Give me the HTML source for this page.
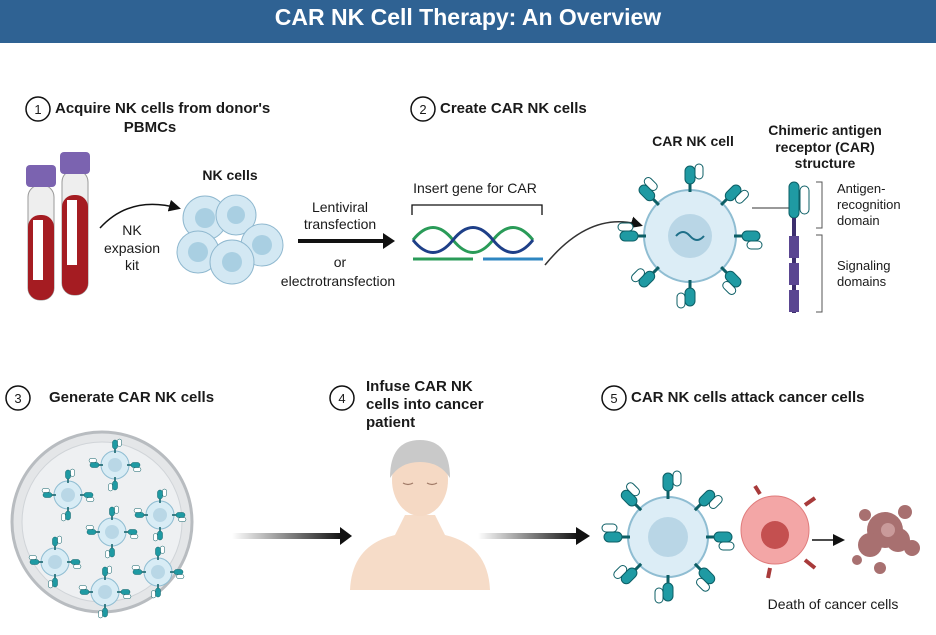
<!DOCTYPE html>
<html><head><meta charset="utf-8"><style>
html,body{margin:0;padding:0;background:#fff}
svg{display:block}
text{font-family:"Liberation Sans",sans-serif;fill:#1a1a1a}
.b{font-weight:bold}
</style></head><body>
<svg width="936" height="635" viewBox="0 0 936 635" xmlns="http://www.w3.org/2000/svg">
<defs>
<marker id="ah" markerWidth="8" markerHeight="8" refX="6" refY="4" orient="auto"><path d="M0,0 L8,4 L0,8 Z" fill="#111"/></marker>
<linearGradient id="ga" x1="0" x2="1"><stop offset="0" stop-color="#fff"/><stop offset="1" stop-color="#111"/></linearGradient>
<g id="rec"><rect x="-5" y="-18" width="10" height="18" rx="5" fill="#1f9aa3" stroke="#0d5f66"/><rect x="5" y="-20" width="8" height="15" rx="4" fill="#fff" stroke="#0d5f66"/><rect x="-1.5" y="0" width="3" height="8" fill="#0d5f66"/></g>
<g id="mini"><circle r="14" fill="#d8ecf5" stroke="#8fbdd2"/><circle r="7" fill="#b9d7e6"/>
<use href="#rec" transform="translate(0,-16) scale(.5)"/><use href="#rec" transform="rotate(90) translate(0,-16) scale(.5)"/><use href="#rec" transform="rotate(180) translate(0,-16) scale(.5)"/><use href="#rec" transform="rotate(270) translate(0,-16) scale(.5)"/></g>
</defs>
<rect x="0" y="0" width="936" height="43" fill="#2f6293"/>
<text x="468" y="25" text-anchor="middle" class="b" style="fill:#fff;font-size:23px">CAR NK Cell Therapy: An Overview</text>

<!-- Step 1 -->
<circle cx="38" cy="109" r="12" fill="#fff" stroke="#111" stroke-width="1.5"/><text x="38" y="114" text-anchor="middle" font-size="13">1</text>
<text x="55" y="113" class="b" font-size="15">Acquire NK cells from donor's</text>
<text x="150" y="132" class="b" font-size="15" text-anchor="middle">PBMCs</text>
<g>
<rect x="28" y="185" width="26" height="115" rx="12" fill="#eee" stroke="#999"/><rect x="28" y="215" width="26" height="85" rx="12" fill="#a51c22"/><rect x="33" y="220" width="10" height="60" fill="#fff"/>
<rect x="26" y="165" width="30" height="22" rx="4" fill="#7b63b0"/>
<rect x="62" y="170" width="26" height="125" rx="12" fill="#eee" stroke="#999"/><rect x="62" y="195" width="26" height="100" rx="12" fill="#a51c22"/><rect x="67" y="200" width="10" height="65" fill="#fff"/>
<rect x="60" y="152" width="30" height="22" rx="4" fill="#7b63b0"/>
</g>
<path d="M100,228 Q130,195 178,208" fill="none" stroke="#111" stroke-width="1.5" marker-end="url(#ah)"/>
<text x="132" y="235" text-anchor="middle" font-size="14">NK</text><text x="132" y="253" text-anchor="middle" font-size="14">expasion</text><text x="132" y="270" text-anchor="middle" font-size="14">kit</text>
<text x="230" y="180" text-anchor="middle" class="b" font-size="14">NK cells</text>
<g fill="#d3e8f3" stroke="#8fb8cf">
<circle cx="205" cy="218" r="22"/><circle cx="236" cy="215" r="20"/><circle cx="198" cy="252" r="21"/><circle cx="262" cy="245" r="21"/><circle cx="232" cy="262" r="22"/>
</g>
<g fill="#a9cfe2"><circle cx="205" cy="218" r="10"/><circle cx="236" cy="215" r="9"/><circle cx="198" cy="252" r="10"/><circle cx="262" cy="245" r="10"/><circle cx="232" cy="262" r="10"/></g>
<text x="340" y="212" text-anchor="middle" font-size="14">Lentiviral</text><text x="340" y="229" text-anchor="middle" font-size="14">transfection</text>
<line x1="298" y1="241" x2="385" y2="241" stroke="#111" stroke-width="4"/><path d="M383,233 L395,241 L383,249 Z" fill="#111"/>
<text x="340" y="267" text-anchor="middle" font-size="14">or</text><text x="338" y="286" text-anchor="middle" font-size="14">electrotransfection</text>

<!-- Step 2 -->
<circle cx="423" cy="109" r="12" fill="#fff" stroke="#111" stroke-width="1.5"/><text x="423" y="114" text-anchor="middle" font-size="13">2</text>
<text x="440" y="113" class="b" font-size="15">Create CAR NK cells</text>
<text x="475" y="193" text-anchor="middle" font-size="14">Insert gene for CAR</text>
<path d="M412,215 V205 H542 V215" fill="none" stroke="#111" stroke-width="1.3"/>
<path d="M413,240 Q433,215 453,240 T493,240 T533,240" fill="none" stroke="#2a9b58" stroke-width="3"/>
<path d="M413,240 Q433,265 453,240 T493,240 T533,240" fill="none" stroke="#1e3f88" stroke-width="3"/>
<line x1="413" y1="259" x2="473" y2="259" stroke="#2a9b58" stroke-width="3"/><line x1="483" y1="259" x2="543" y2="259" stroke="#2e86c1" stroke-width="3"/>
<path d="M545,265 Q590,210 640,225" fill="none" stroke="#333" stroke-width="1.5" marker-end="url(#ah)"/>
<text x="693" y="146" text-anchor="middle" class="b" font-size="14">CAR NK cell</text>
<circle cx="690" cy="236" r="46" fill="#dcedf6" stroke="#8fbdd2" stroke-width="2"/><circle cx="690" cy="236" r="22" fill="#b9d6e6"/>
<path d="M676,236 q7,-8 14,0 t14,0" stroke="#1e6f88" fill="none" stroke-width="2"/>
<g transform="translate(690,236)">
<use href="#rec" transform="translate(0,-52)"/><use href="#rec" transform="rotate(45) translate(0,-52)"/><use href="#rec" transform="rotate(90) translate(0,-52)"/><use href="#rec" transform="rotate(135) translate(0,-52)"/><use href="#rec" transform="rotate(180) translate(0,-52)"/><use href="#rec" transform="rotate(225) translate(0,-52)"/><use href="#rec" transform="rotate(270) translate(0,-52)"/><use href="#rec" transform="rotate(315) translate(0,-52)"/>
</g>
<line x1="752" y1="208" x2="790" y2="208" stroke="#333"/>
<text x="825" y="135" text-anchor="middle" class="b" font-size="14">Chimeric antigen</text><text x="825" y="152" text-anchor="middle" class="b" font-size="14">receptor (CAR)</text><text x="825" y="168" text-anchor="middle" class="b" font-size="14">structure</text>
<rect x="789" y="182" width="10" height="36" rx="5" fill="#1f9aa3" stroke="#0d5f66"/><rect x="800" y="186" width="9" height="28" rx="4.5" fill="#fff" stroke="#0d5f66"/>
<rect x="792" y="218" width="4" height="95" fill="#3d2f6e"/>
<rect x="789" y="236" width="10" height="22" fill="#5a4691"/><rect x="789" y="263" width="10" height="22" fill="#5a4691"/><rect x="789" y="290" width="10" height="22" fill="#5a4691"/>
<path d="M816,182 H822 V228 H816" fill="none" stroke="#555"/><path d="M816,235 H822 V312 H816" fill="none" stroke="#555"/>
<text x="837" y="193" font-size="13">Antigen-</text><text x="837" y="209" font-size="13">recognition</text><text x="837" y="225" font-size="13">domain</text>
<text x="837" y="270" font-size="13">Signaling</text><text x="837" y="286" font-size="13">domains</text>

<!-- Step 3 -->
<circle cx="18" cy="398" r="12" fill="#fff" stroke="#111" stroke-width="1.5"/><text x="18" y="403" text-anchor="middle" font-size="13">3</text>
<text x="49" y="402" class="b" font-size="15">Generate CAR NK cells</text>
<circle cx="102" cy="522" r="90" fill="#e4e6e8" stroke="#b8bcc0" stroke-width="3"/>
<circle cx="102" cy="522" r="80" fill="#eef0f2" stroke="#d0d4d8"/>
<use href="#mini" x="68" y="495"/><use href="#mini" x="115" y="465"/><use href="#mini" x="160" y="515"/><use href="#mini" x="112" y="532"/><use href="#mini" x="55" y="562"/><use href="#mini" x="158" y="572"/><use href="#mini" x="105" y="592"/>
<rect x="232" y="533" width="110" height="6" fill="url(#ga)"/><path d="M340,527 L352,536 L340,545 Z" fill="#111"/>

<!-- Step 4 -->
<circle cx="342" cy="398" r="12" fill="#fff" stroke="#111" stroke-width="1.5"/><text x="342" y="403" text-anchor="middle" font-size="13">4</text>
<text x="366" y="391" class="b" font-size="15">Infuse CAR NK</text><text x="366" y="409" class="b" font-size="15">cells into cancer</text><text x="366" y="427" class="b" font-size="15">patient</text>
<path d="M350,590 Q352,545 395,535 L405,515 L435,515 L445,535 Q488,545 490,590 Z" fill="#f6dcc8"/>
<ellipse cx="420" cy="480" rx="28" ry="36" fill="#f5d9c4"/>
<path d="M390,478 Q390,440 420,440 Q450,440 450,478 Q440,462 420,462 Q400,462 390,478 Z" fill="#c9c9c9"/>
<path d="M403,483 q5,3 10,0 M427,483 q5,3 10,0" stroke="#a07a66" fill="none" stroke-width="1.2"/>
<rect x="478" y="533" width="100" height="6" fill="url(#ga)"/><path d="M576,527 L590,536 L576,545 Z" fill="#111"/>

<!-- Step 5 -->
<circle cx="614" cy="398" r="12" fill="#fff" stroke="#111" stroke-width="1.5"/><text x="614" y="403" text-anchor="middle" font-size="13">5</text>
<text x="631" y="402" class="b" font-size="15">CAR NK cells attack cancer cells</text>
<circle cx="668" cy="537" r="40" fill="#dcedf6" stroke="#8fbdd2" stroke-width="2"/><circle cx="668" cy="537" r="20" fill="#b9d6e6"/>
<g transform="translate(668,537)">
<use href="#rec" transform="translate(0,-46)"/><use href="#rec" transform="rotate(45) translate(0,-46)"/><use href="#rec" transform="rotate(90) translate(0,-46)"/><use href="#rec" transform="rotate(135) translate(0,-46)"/><use href="#rec" transform="rotate(180) translate(0,-46)"/><use href="#rec" transform="rotate(225) translate(0,-46)"/><use href="#rec" transform="rotate(270) translate(0,-46)"/><use href="#rec" transform="rotate(315) translate(0,-46)"/>
</g>
<g stroke="#a83a3a" stroke-width="4"><line x1="760" y1="494" x2="755" y2="486"/><line x1="805" y1="505" x2="815" y2="498"/><line x1="805" y1="560" x2="815" y2="568"/><line x1="770" y1="568" x2="768" y2="578"/></g>
<circle cx="775" cy="530" r="34" fill="#f3a6a6" stroke="#e07c7c"/><circle cx="775" cy="535" r="14" fill="#c45050"/>
<line x1="812" y1="540" x2="842" y2="540" stroke="#111" stroke-width="1.5" marker-end="url(#ah)"/>
<g fill="#a87070"><circle cx="885" cy="530" r="18"/><circle cx="870" cy="545" r="12"/><circle cx="898" cy="540" r="12"/><circle cx="865" cy="515" r="6"/><circle cx="905" cy="512" r="7"/><circle cx="912" cy="548" r="8"/><circle cx="880" cy="568" r="6"/><circle cx="857" cy="560" r="5"/></g>
<circle cx="888" cy="530" r="7" fill="#c99a9a"/>
<text x="833" y="609" text-anchor="middle" font-size="14">Death of cancer cells</text>
</svg>
</body></html>
